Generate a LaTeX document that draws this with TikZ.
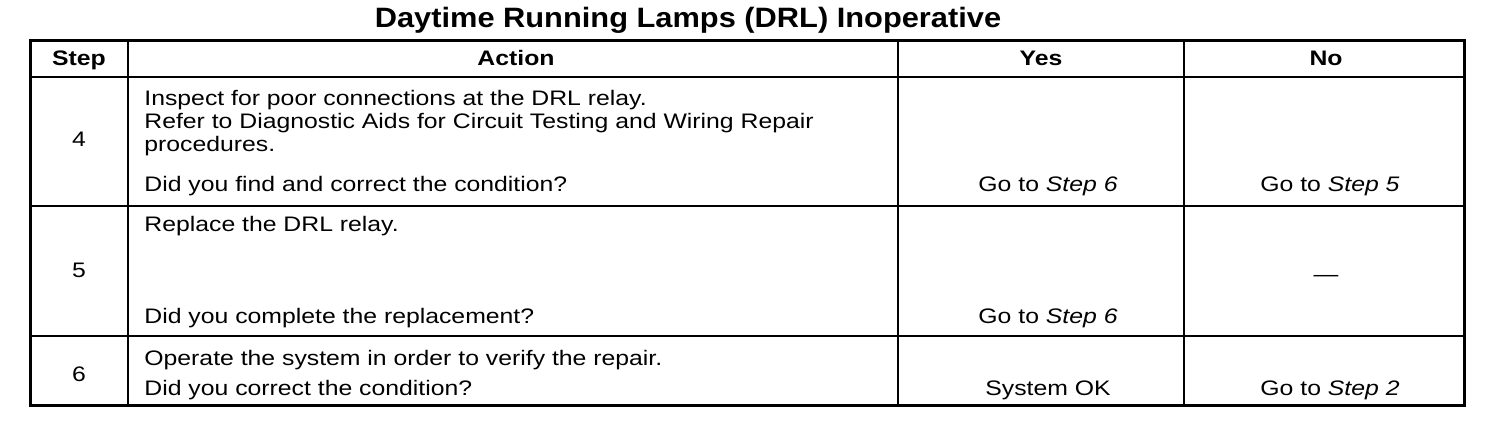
\documentclass[tikz,border=0pt]{standalone}
\usepackage{fontspec}
\setmainfont{Liberation Sans}
\newfontfamily\tabfont[FakeStretch=1.18,Ligatures=TeX]{Liberation Sans}
\newfontfamily\titlefont[FakeStretch=1.1]{Liberation Sans}

\begin{document}
\begin{tikzpicture}[x=0.5pt,y=-0.5pt,
        cell/.style={inner sep=0pt,anchor=base,font=\tabfont\fontsize{10.5}{12}\selectfont},
        celltext/.style={cell,anchor=base west},
        headcell/.style={cell,font=\tabfont\fontsize{10.5}{12}\selectfont\bfseries},
        frame/.style={line width=1.5pt},
        rule/.style={line width=1pt}]
        \useasboundingbox[fill=white] (0,0) rectangle (1504,426);
        % Title
        \node[cell,font=\titlefont\fontsize{14}{16}\selectfont\bfseries] (title) at (688,28) {Daytime Running Lamps (DRL) Inoperative};
        % Table rules
        \draw[rule] (30,77) -- (1464,77);
        \draw[rule] (30,206) -- (1464,206);
        \draw[rule] (30,336) -- (1464,336);
        \draw[rule] (128,41) -- (128,406);
        \draw[rule] (898,41) -- (898,406);
        \draw[rule] (1184,41) -- (1184,406);
        \draw[frame] (30,41) rectangle (1464,406);
        % Header
        \node[headcell] (hstep) at (79,66) {Step};
        \node[headcell] (haction) at (516,66) {Action};
        \node[headcell] (hyes) at (1041,66) {Yes};
        \node[headcell] (hno) at (1326,66) {No};
        % Step 4
        \node[cell] (s4) at (79,147) {4};
        \node[celltext] (a4a) at (144,106) {Inspect for poor connections at the DRL relay.};
        \node[celltext] (a4b) at (144,129) {Refer to Diagnostic Aids for Circuit Testing and Wiring Repair};
        \node[celltext] (a4c) at (144,152) {procedures.};
        \node[celltext] (a4d) at (144,192) {Did you find and correct the condition?};
        \node[cell] (y4) at (1048,192) {Go to \textit{Step 6}};
        \node[cell] (n4) at (1330,192) {Go to \textit{Step 5}};
        % Step 5
        \node[cell] (s5) at (79,278) {5};
        \node[celltext] (a5a) at (144,232) {Replace the DRL relay.};
        \node[celltext] (a5b) at (144,324) {Did you complete the replacement?};
        \node[cell] (y5) at (1048,324) {Go to \textit{Step 6}};
        \node[cell] (n5) at (1326,282) {—};
        % Step 6
        \node[cell] (s6) at (79,382) {6};
        \node[celltext] (a6a) at (144,366) {Operate the system in order to verify the repair.};
        \node[celltext] (a6b) at (144,396) {Did you correct the condition?};
        \node[cell] (y6) at (1048,396) {System OK};
        \node[cell] (n6) at (1330,396) {Go to \textit{Step 2}};
\end{tikzpicture}
\end{document}
